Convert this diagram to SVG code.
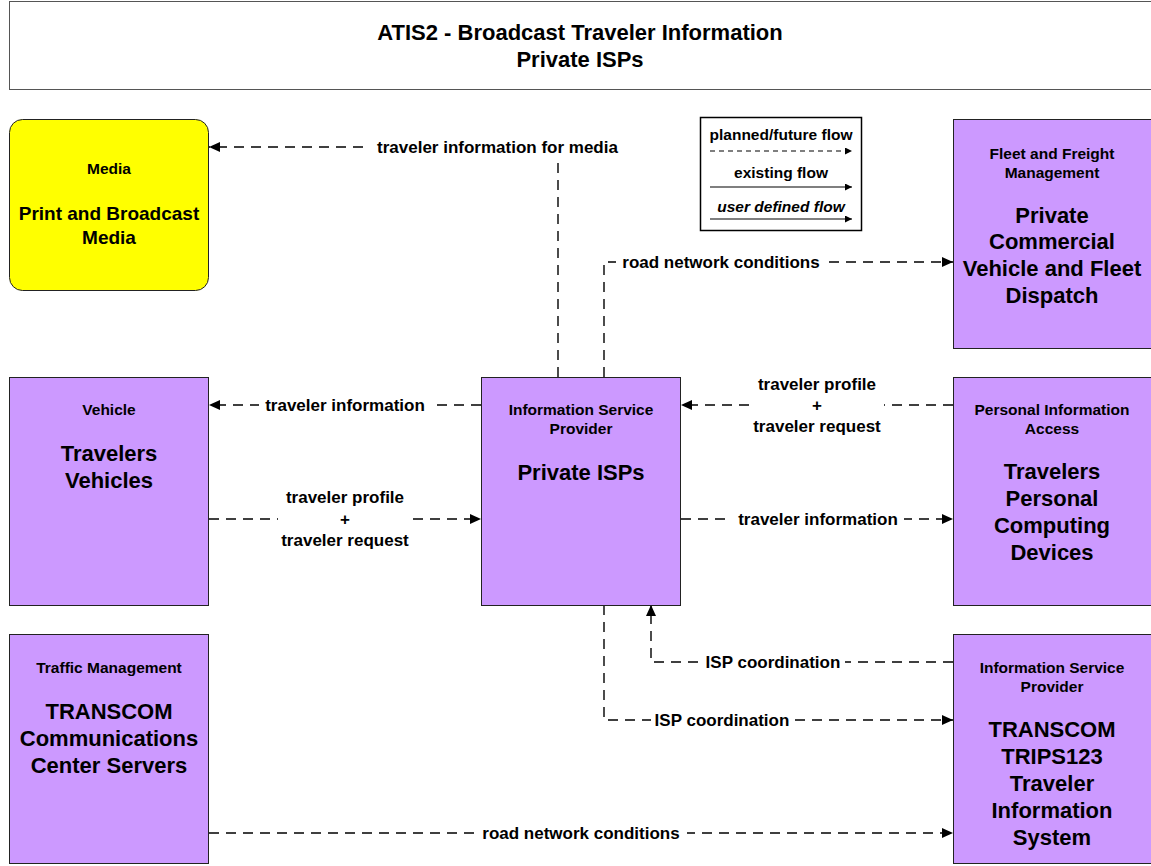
<svg xmlns="http://www.w3.org/2000/svg" width="1151" height="866" viewBox="0 0 1151 866">
<defs>
<marker id="ah" markerUnits="userSpaceOnUse" markerWidth="12" markerHeight="10" refX="11" refY="5" orient="auto">
<path d="M0,0 L11,5 L0,10 z" fill="#000"/>
</marker>
<marker id="ahs" markerUnits="userSpaceOnUse" markerWidth="8" markerHeight="8" refX="7" refY="3.5" orient="auto">
<path d="M0,0 L7,3.5 L0,7 z" fill="#000"/>
</marker>
<style>
text{font-family:"Liberation Sans",Arial,sans-serif;font-weight:bold;fill:#000;text-anchor:middle}
.node{fill:#CC99FF;stroke:#222;stroke-width:1}
.small{font-size:15.5px}
.big{font-size:22px}
.lbl{font-size:17px}
.flow{fill:none;stroke:#000;stroke-width:1.4;stroke-dasharray:10,7;marker-end:url(#ah)}
.bg{fill:#fff}
</style>
</defs>
<g id="title">
<rect x="9.5" y="1.5" width="1150" height="88" fill="#fff" stroke="#555" stroke-width="1"/>
<text x="580" y="40" style="font-size:22px">ATIS2 - Broadcast Traveler Information</text>
<text x="580" y="67" style="font-size:22px">Private ISPs</text>
</g>
<g id="legend">
<rect x="700.5" y="117.5" width="161" height="113" fill="#fff" stroke="#000" stroke-width="1.5"/>
<text x="781" y="140" class="small">planned/future flow</text>
<line x1="710" y1="151" x2="852" y2="151" stroke="#000" stroke-width="1.2" stroke-dasharray="5,4" marker-end="url(#ahs)"/>
<text x="781" y="178" class="small">existing flow</text>
<line x1="710" y1="187" x2="852" y2="187" stroke="#000" stroke-width="1.2" marker-end="url(#ahs)"/>
<text x="781" y="212" class="small" font-style="italic">user defined flow</text>
<line x1="710" y1="219" x2="852" y2="219" stroke="#000" stroke-width="1.2" marker-end="url(#ahs)"/>
</g>
<g id="connectors">
<path class="flow" d="M558,377 V147 H209"/>
<path class="flow" d="M604,377 V262 H953"/>
<path class="flow" d="M481,405 H209"/>
<path class="flow" d="M953,405 H681"/>
<path class="flow" d="M209,519 H481"/>
<path class="flow" d="M681,519 H953"/>
<path class="flow" d="M953,662 H651 V605"/>
<path class="flow" d="M604,605 V720 H953"/>
<path class="flow" d="M209,833 H953"/>
<rect class="bg" x="370" y="138" width="255" height="19"/>
<text class="lbl" x="497.5" y="153">traveler information for media</text>
<rect class="bg" x="616" y="253" width="210" height="19"/>
<text class="lbl" x="721" y="268">road network conditions</text>
<rect class="bg" x="259" y="396" width="172" height="19"/>
<text class="lbl" x="345" y="411">traveler information</text>
<rect class="bg" x="750" y="375" width="134" height="62"/>
<text class="lbl" x="817" y="390">traveler profile</text>
<text class="lbl" x="817" y="411">+</text>
<text class="lbl" x="817" y="432">traveler request</text>
<rect class="bg" x="278" y="488" width="134" height="62"/>
<text class="lbl" x="345" y="503">traveler profile</text>
<text class="lbl" x="345" y="525">+</text>
<text class="lbl" x="345" y="546">traveler request</text>
<rect class="bg" x="732" y="510" width="172" height="19"/>
<text class="lbl" x="818" y="525">traveler information</text>
<rect class="bg" x="701" y="653" width="144" height="19"/>
<text class="lbl" x="773" y="668">ISP coordination</text>
<rect class="bg" x="651" y="711" width="143" height="19"/>
<text class="lbl" x="722" y="726">ISP coordination</text>
<rect class="bg" x="475" y="824" width="212" height="19"/>
<text class="lbl" x="581" y="839">road network conditions</text>
</g>
<g id="media">
<rect x="9.5" y="119.5" width="199" height="171" rx="13" fill="#FFFF00" stroke="#222" stroke-width="1"/>
<text class="small" x="109" y="174">Media</text>
<text x="109" y="220" style="font-size:19px">Print and Broadcast</text>
<text x="109" y="244" style="font-size:19px">Media</text>
</g>
<g id="fleet">
<rect class="node" x="953.5" y="119.5" width="198" height="229"/>
<text class="small" x="1052" y="159">Fleet and Freight</text>
<text class="small" x="1052" y="178">Management</text>
<text class="big" x="1052" y="223">Private</text>
<text class="big" x="1052" y="249">Commercial</text>
<text class="big" x="1052" y="276">Vehicle and Fleet</text>
<text class="big" x="1052" y="303">Dispatch</text>
</g>
<g id="vehicle">
<rect class="node" x="9.5" y="377.5" width="199" height="228"/>
<text class="small" x="109" y="415">Vehicle</text>
<text class="big" x="109" y="461">Travelers</text>
<text class="big" x="109" y="488">Vehicles</text>
</g>
<g id="private-isps">
<rect class="node" x="481.5" y="377.5" width="199" height="228"/>
<text class="small" x="581" y="415">Information Service</text>
<text class="small" x="581" y="434">Provider</text>
<text class="big" x="581" y="480">Private ISPs</text>
</g>
<g id="personal">
<rect class="node" x="953.5" y="377.5" width="198" height="228"/>
<text class="small" x="1052" y="415">Personal Information</text>
<text class="small" x="1052" y="434">Access</text>
<text class="big" x="1052" y="479">Travelers</text>
<text class="big" x="1052" y="506">Personal</text>
<text class="big" x="1052" y="533">Computing</text>
<text class="big" x="1052" y="560">Devices</text>
</g>
<g id="traffic">
<rect class="node" x="9.5" y="634.5" width="199" height="229"/>
<text class="small" x="109" y="673">Traffic Management</text>
<text class="big" x="109" y="719">TRANSCOM</text>
<text class="big" x="109" y="746">Communications</text>
<text class="big" x="109" y="773">Center Servers</text>
</g>
<g id="transcom-isp">
<rect class="node" x="953.5" y="634.5" width="198" height="229"/>
<text class="small" x="1052" y="673">Information Service</text>
<text class="small" x="1052" y="692">Provider</text>
<text class="big" x="1052" y="737">TRANSCOM</text>
<text class="big" x="1052" y="764">TRIPS123</text>
<text class="big" x="1052" y="791">Traveler</text>
<text class="big" x="1052" y="818">Information</text>
<text class="big" x="1052" y="845">System</text>
</g>
</svg>
